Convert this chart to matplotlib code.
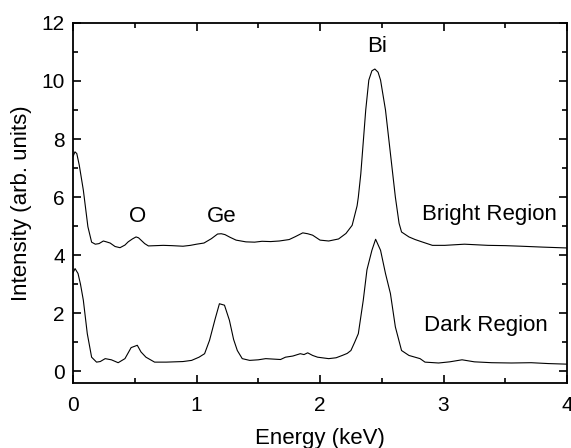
import matplotlib
matplotlib.use('Agg')
import matplotlib.pyplot as plt
from matplotlib.ticker import MultipleLocator

plt.rcParams['font.family'] = ['Liberation Sans', 'DejaVu Sans']

# EDS spectra
bright_energy = [0.0, 0.015, 0.03, 0.05, 0.083, 0.12, 0.15, 0.18, 0.21, 0.245, 0.27, 0.30,
                 0.34, 0.38, 0.42, 0.446, 0.48, 0.51, 0.53, 0.55, 0.58, 0.61, 0.67, 0.73,
                 0.80, 0.89, 0.95, 1.0, 1.06, 1.12, 1.17, 1.20, 1.23, 1.27, 1.32, 1.40,
                 1.47, 1.53, 1.60, 1.67, 1.75, 1.80, 1.86, 1.90, 1.94, 2.0, 2.07, 2.15,
                 2.21, 2.26, 2.30, 2.31, 2.33, 2.37, 2.395, 2.42, 2.444, 2.47, 2.49, 2.53,
                 2.57, 2.61, 2.64, 2.66, 2.72, 2.77, 2.825, 2.91, 3.01, 3.17, 3.36, 3.5,
                 3.63, 3.8, 4.0]
bright_intensity = [7.4, 7.56, 7.5, 7.1, 6.24, 4.98, 4.45, 4.38, 4.40, 4.49, 4.46, 4.42,
                    4.30, 4.26, 4.35, 4.46, 4.56, 4.63, 4.60, 4.52, 4.40, 4.32, 4.33, 4.34,
                    4.33, 4.31, 4.34, 4.38, 4.42, 4.57, 4.73, 4.74, 4.71, 4.62, 4.52, 4.46,
                    4.45, 4.48, 4.47, 4.49, 4.54, 4.64, 4.77, 4.74, 4.69, 4.52, 4.49, 4.56,
                    4.75, 5.03, 5.7, 6.0, 6.8, 9.0, 10.03, 10.35, 10.41, 10.3, 10.03, 9.0,
                    7.5, 6.0, 5.1, 4.8, 4.63, 4.54, 4.46, 4.34, 4.34, 4.38, 4.34, 4.33,
                    4.31, 4.28, 4.25]

dark_energy = [0.0, 0.016, 0.04, 0.06, 0.083, 0.115, 0.15, 0.19, 0.22, 0.26, 0.31, 0.365,
               0.42, 0.47, 0.52, 0.55, 0.59, 0.66, 0.755, 0.89, 0.96, 1.02, 1.065, 1.105,
               1.15, 1.185, 1.226, 1.266, 1.30, 1.33, 1.37, 1.43, 1.50, 1.56, 1.64, 1.68,
               1.72, 1.78, 1.84, 1.87, 1.90, 1.94, 1.98, 2.07, 2.13, 2.18, 2.22, 2.25,
               2.28, 2.31, 2.35, 2.38, 2.42, 2.45, 2.49, 2.53, 2.57, 2.61, 2.66, 2.72,
               2.81, 2.85, 2.96, 3.05, 3.15, 3.25, 3.39, 3.55, 3.71, 3.85, 4.0]
dark_intensity = [3.4, 3.54, 3.37, 3.0, 2.45, 1.30, 0.49, 0.32, 0.34, 0.44, 0.40, 0.30,
                  0.44, 0.82, 0.90, 0.67, 0.49, 0.32, 0.32, 0.34, 0.38, 0.49, 0.61, 1.07,
                  1.8, 2.33, 2.28, 1.76, 1.1, 0.72, 0.44, 0.38, 0.40, 0.44, 0.42, 0.41,
                  0.49, 0.53, 0.61, 0.58, 0.64, 0.55, 0.49, 0.44, 0.47, 0.55, 0.62, 0.72,
                  1.0, 1.30, 2.45, 3.5, 4.17, 4.55, 4.17, 3.37, 2.68, 1.53, 0.72, 0.55,
                  0.44, 0.32, 0.29, 0.33, 0.40, 0.33, 0.30, 0.29, 0.30, 0.27, 0.25]

peak_labels = ['O', 'Ge', 'Bi']
peak_pos = [(0.524, 5.34), (1.2, 5.34), (2.46, 11.18)]
region_labels = ['Bright Region', 'Dark Region']
region_pos = [(3.37, 5.41), (3.34, 1.59)]

fig = plt.figure(figsize=(5.71, 4.48), dpi=100)
ax = fig.add_axes([0.128, 0.145, 0.865, 0.804])

ax.plot(bright_energy, bright_intensity, color='black', lw=0.8)
ax.plot(dark_energy, dark_intensity, color='black', lw=0.8)

for label, (x, y) in zip(peak_labels, peak_pos):
    ax.text(x, y, label, ha='center', va='center', fontsize=16)
for label, (x, y) in zip(region_labels, region_pos):
    ax.text(x, y, label, ha='center', va='center', fontsize=16)

ax.set_xlim(0, 4)
ax.set_ylim(-0.4, 12)
ax.xaxis.set_major_locator(MultipleLocator(1))
ax.xaxis.set_minor_locator(MultipleLocator(0.5))
ax.yaxis.set_major_locator(MultipleLocator(2))
ax.yaxis.set_minor_locator(MultipleLocator(1))
ax.tick_params(which='both', direction='in', top=True, right=True, width=1.2, labelsize=15)
ax.tick_params(which='major', length=6)
ax.tick_params(which='minor', length=3.5)
ax.tick_params(axis='x', pad=9)
ax.tick_params(axis='y', pad=6)
for sp in ax.spines.values():
    sp.set_linewidth(1.3)

ax.set_xlabel('Energy (keV)', fontsize=16, labelpad=10)
ax.set_ylabel('Intensity (arb. units)', fontsize=16, labelpad=7)

fig.savefig('out.png', dpi=100)
